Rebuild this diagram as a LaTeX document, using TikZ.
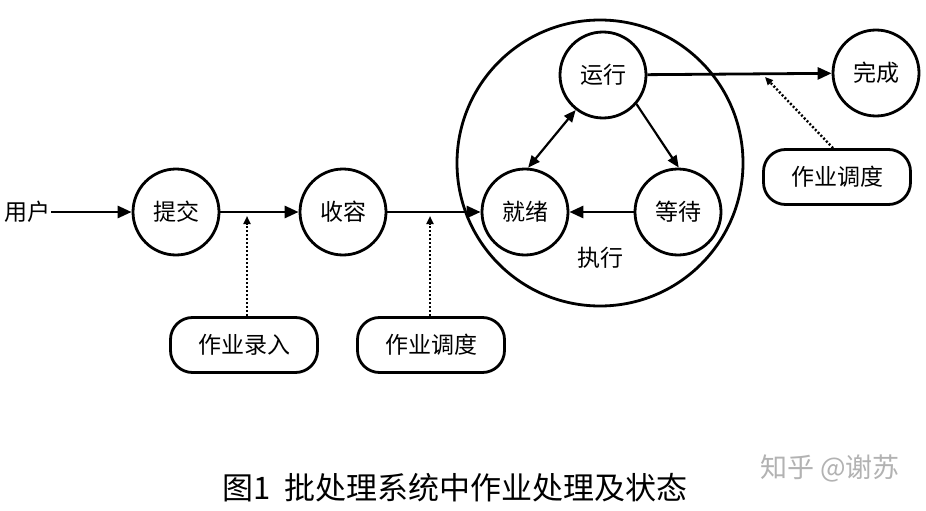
\documentclass[tikz,border=0pt]{standalone}
\usepackage{fontspec}
\setmainfont{Noto Sans CJK SC}
\usetikzlibrary{arrows.meta}
\begin{document}
\begin{tikzpicture}[x=1pt,y=-1pt,
  state/.style={circle,draw,line width=2.8pt,minimum size=86pt,inner sep=0pt,font=\fontsize{23}{27}\selectfont},
  notebox/.style={draw,rounded corners=22pt,line width=2.8pt,minimum width=147pt,minimum height=55pt,inner sep=0pt,font=\fontsize{23}{27}\selectfont},
  plaintext/.style={inner sep=0pt,font=\fontsize{23}{27}\selectfont},
  flow/.style={line width=2.8pt,-{Triangle[length=14pt,width=12pt]}},
  slimflow/.style={line width=2.2pt,-{Triangle[length=12pt,width=10pt]}},
  dotflow/.style={line width=2.4pt,dash pattern=on 2pt off 2pt,-{Triangle[length=8pt,width=7pt]}}
]
\useasboundingbox[fill=white] (0,0) rectangle (926,511);

\node[plaintext] (user) at (28,212) {用户};
\node[state] (submit) at (176,212) {提交};
\node[state] (hold) at (343,212) {收容};
\node[state] (ready) at (525,212) {就绪};
\node[state] (run) at (603,75) {运行};
\node[state] (wait) at (678,212) {等待};
\node[state] (done) at (876,73) {完成};
\node[circle,draw,line width=2.8pt,minimum size=286pt,inner sep=0pt] (exec) at (600,163) {};
\node[plaintext] (execlabel) at (600,258) {执行};

\node[notebox] (input) at (244,345) {作业录入};
\node[notebox] (sched1) at (431,345) {作业调度};
\node[notebox] (sched2) at (837,177) {作业调度};

\coordinate (m1) at (247,216);
\coordinate (m2) at (430,216);
\coordinate (m3) at (765,77);

\draw[flow] (user.east) -- (submit);
\draw[flow] (submit) -- (hold);
\draw[flow] (hold) -- (ready);
\draw[flow] (wait) -- (ready);
\draw[flow] (run) -- (done);
\draw[line width=2.2pt,{Triangle[length=12pt,width=10pt]}-{Triangle[length=12pt,width=10pt]}] (run.232) -- (ready.86);
\draw[slimflow] (run.319) -- (wait.89);

\draw[dotflow] (input.north -| m1) -- (m1);
\draw[dotflow] (sched1.north -| m2) -- (m2);
\draw[dotflow] ([xshift=-4pt]sched2.north) -- (m3);

\node[inner sep=0pt,font=\fontsize{31}{35}\selectfont] (caption) at (455,488) {图1\ \ 批处理系统中作业处理及状态};
\node[inner sep=0pt,text=black!30,font=\fontsize{27}{31}\selectfont] (wm) at (830,468) {知乎 @谢苏};
\end{tikzpicture}
\end{document}
